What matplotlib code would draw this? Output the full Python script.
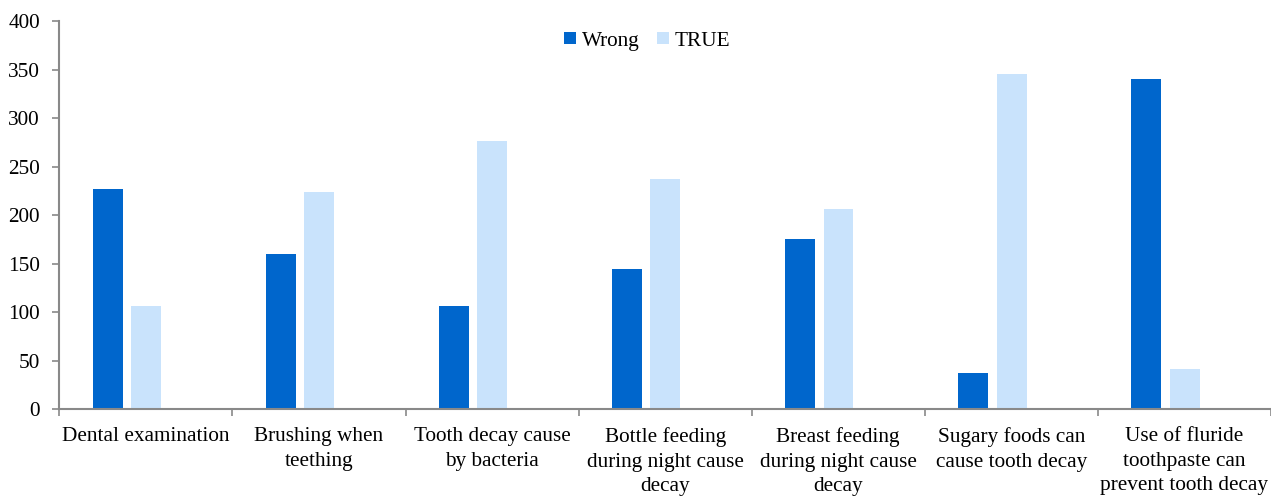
import matplotlib
matplotlib.use("Agg")
import matplotlib.pyplot as plt
import numpy as np

categories = [
    "Dental examination",
    "Brushing when\nteething",
    "Tooth decay cause\nby bacteria",
    "Bottle feeding\nduring night cause\ndecay",
    "Breast feeding\nduring night cause\ndecay",
    "Sugary foods can\ncause tooth decay",
    "Use of fluride\ntoothpaste can\nprevent tooth decay",
]
wrong = [227, 160, 107, 145, 176, 37, 341]
true_vals = [107, 224, 277, 237, 206, 346, 42]
yticks = [0, 50, 100, 150, 200, 250, 300, 350, 400]

plt.rcParams['font.family'] = ['Liberation Serif', 'DejaVu Serif']
FS = 15.3

fig = plt.figure(figsize=(12.71, 4.96), dpi=100)
ax = fig.add_axes([59.3 / 1271, 1 - 409.3 / 496, 1 - 59.3 / 1271, (409.3 - 21.3) / 496])

x = np.arange(len(categories))
bw = 0.173
ax.bar(x + 0.194, wrong, width=bw, align='edge', color='#0066CC', label='Wrong', zorder=2)
ax.bar(x + 0.415, true_vals, width=bw, align='edge', color='#C9E3FC', label='TRUE', zorder=2)

ax.set_xlim(0, len(categories))
ax.set_ylim(0, 400)
ax.set_yticks(yticks)
ax.set_yticklabels([str(v) for v in yticks], fontsize=FS)

ax.set_xticks(np.arange(len(categories) + 1))
ax.set_xticklabels([])
ax.set_xticks(x + 0.5, minor=True)
ax.set_xticklabels(categories, minor=True, fontsize=FS, linespacing=1.38)
ax.tick_params(axis='x', which='minor', length=0, pad=13)
ax.tick_params(axis='x', which='major', length=5, width=1.2, color='#898989', direction='out')
ax.tick_params(axis='y', length=5, width=1.2, color='#898989', direction='out', pad=9)

for s in ['top', 'right']:
    ax.spines[s].set_visible(False)
for s in ['left', 'bottom']:
    ax.spines[s].set_color('#898989')
    ax.spines[s].set_linewidth(1.5)

leg = ax.legend(loc='center', bbox_to_anchor=(0.4853, 0.949), ncol=2, frameon=False,
                fontsize=FS, handlelength=0.55, handleheight=0.55, handletextpad=0.3,
                columnspacing=0.8, borderpad=0, borderaxespad=0)

fig.savefig("out.png", dpi=100)
